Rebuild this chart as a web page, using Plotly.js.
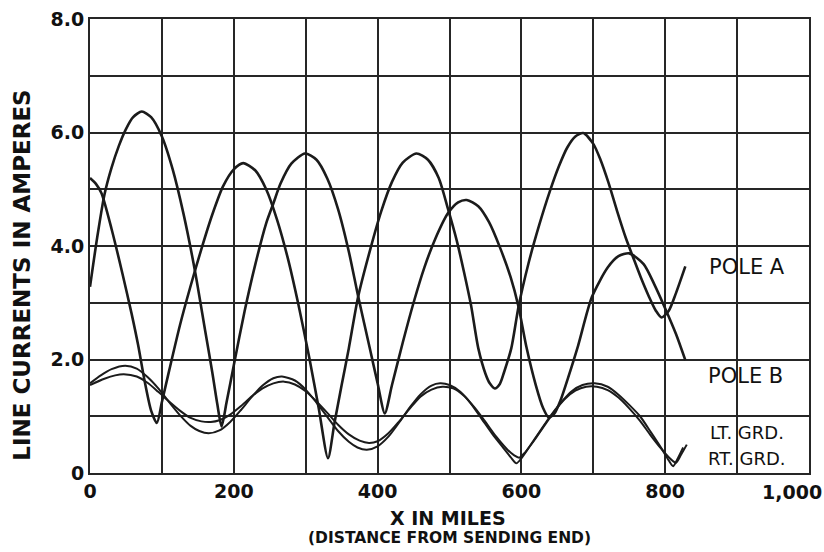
<!DOCTYPE html>
<html>
<head>
<meta charset="utf-8">
<script src="https://cdn.plot.ly/plotly-3.0.1.min.js"></script>
<style>
  html, body { margin: 0; padding: 0; background: #ffffff; }
  #chart { width: 824px; height: 552px; }
</style>
</head>
<body>
<div id="chart"></div>
<script>
// ---- Data (miles from sending end, amperes) ----
const poleAMiles = [0,8,16,30,45,58,67,76,85,93,100,110,125,140,155,170,185,200,213,230,245,260,275,290,305,318,331,340,350,360,373,390,405,420,435,454,470,485,498,510,520,530,540,550,556,563,570,576,586,596,610,625,640,652,664,675,686,700,710,721,733,745,756,766,777,787,795,805,815,828];
const poleAAmps  = [5.20,5.10,4.93,4.30,3.52,2.80,2.25,1.62,1.10,0.88,1.25,1.80,2.60,3.30,3.95,4.55,5.05,5.35,5.46,5.33,5.00,4.47,3.79,2.96,2.03,1.15,0.26,0.88,1.55,2.20,3.11,3.95,4.61,5.13,5.47,5.63,5.52,5.20,4.65,4.10,3.55,2.95,2.20,1.75,1.58,1.49,1.57,1.78,2.20,2.93,3.70,4.38,4.98,5.40,5.74,5.93,5.99,5.80,5.52,5.12,4.62,4.15,3.78,3.45,3.12,2.86,2.74,2.86,3.17,3.64];

const poleBMiles = [0,10,20,30,40,50,60,72,85,100,115,130,146,160,170,177,183,190,200,215,230,245,255,265,280,299,315,330,345,360,373,390,400,410,420,435,450,465,480,498,512,524,540,555,570,585,596,607,620,630,638,646,655,665,679,698,720,735,750,770,785,800,815,828];
const poleBAmps  = [3.28,4.15,4.90,5.38,5.76,6.06,6.27,6.37,6.27,5.93,5.35,4.57,3.56,2.52,1.78,1.22,0.82,1.25,1.90,2.85,3.68,4.40,4.75,5.10,5.45,5.63,5.52,5.19,4.65,3.90,3.11,2.15,1.58,1.05,1.55,2.30,3.00,3.62,4.12,4.58,4.77,4.81,4.70,4.42,3.98,3.45,2.93,2.22,1.55,1.15,0.98,1.05,1.30,1.68,2.25,3.10,3.62,3.82,3.87,3.68,3.32,2.90,2.45,1.99];

const ltGrdMiles = [0,15,30,49,65,80,95,110,125,140,152,165,180,195,210,225,240,255,267,285,300,315,330,345,360,372,385,400,415,430,445,460,475,487,500,515,530,545,560,575,585,593,600,612,625,640,655,670,685,702,720,735,750,765,780,795,805,811,818,825];
const ltGrdAmps  = [1.58,1.72,1.83,1.89,1.84,1.69,1.49,1.25,1.02,0.83,0.74,0.70,0.75,0.90,1.11,1.34,1.54,1.67,1.70,1.63,1.47,1.24,0.99,0.74,0.55,0.45,0.41,0.47,0.64,0.89,1.16,1.39,1.54,1.58,1.55,1.43,1.22,0.95,0.68,0.44,0.28,0.17,0.26,0.48,0.72,1.00,1.24,1.44,1.55,1.58,1.52,1.38,1.20,1.00,0.72,0.43,0.22,0.12,0.27,0.45];

const rtGrdMiles = [0,20,35,47,65,80,95,110,125,140,155,168,180,195,210,225,240,255,270,285,300,315,330,345,360,375,388,400,415,430,445,460,475,490,505,520,535,550,565,580,590,597,605,617,630,645,660,675,690,705,720,735,750,765,780,795,808,815,822,830];
const rtGrdAmps  = [1.55,1.66,1.72,1.74,1.70,1.59,1.43,1.26,1.10,0.97,0.91,0.90,0.93,1.03,1.18,1.35,1.49,1.58,1.61,1.56,1.44,1.26,1.06,0.85,0.68,0.57,0.53,0.56,0.70,0.91,1.14,1.35,1.47,1.52,1.49,1.36,1.15,0.90,0.64,0.42,0.31,0.27,0.36,0.56,0.80,1.07,1.30,1.45,1.52,1.52,1.46,1.33,1.14,0.92,0.66,0.42,0.24,0.18,0.32,0.50];

const xTickVals = [0,100,200,300,400,500,600,700,800,900,1000];
const xTickText = ['0','','200','','400','','600','','800','',''];
const yTickVals = [0,1,2,3,4,5,6,7,8];
const yTickText = ['0','','2.0','','4.0','','6.0','','8.0'];

const seriesLabels = ['POLE A','POLE B','LT. GRD.','RT. GRD.'];

// ---- Styling ----
const ink = '#1b1b1b';
const gridInk = '#262626';
const fontFam = 'DejaVu Sans, Liberation Sans, sans-serif';

function curve(x, y, w, name) {
  return {
    x: x, y: y, type: 'scatter', mode: 'lines', name: name,
    line: { color: ink, width: w, shape: 'spline', smoothing: 0.7 },
    hoverinfo: 'skip'
  };
}

const traces = [
  curve(poleAMiles, poleAAmps, 2.6, seriesLabels[0]),
  curve(poleBMiles, poleBAmps, 2.6, seriesLabels[1]),
  curve(ltGrdMiles, ltGrdAmps, 2.0, seriesLabels[2]),
  curve(rtGrdMiles, rtGrdAmps, 2.0, seriesLabels[3])
];

const axisCommon = {
  showgrid: true, gridcolor: gridInk, gridwidth: 2,
  showline: true, linecolor: gridInk, linewidth: 2, mirror: true,
  zeroline: false, ticks: '',
  tickfont: { family: fontFam, size: 19, color: '#111', weight: 'bold' },
  fixedrange: true
};

const layout = {
  width: 824, height: 552,
  margin: { l: 90, r: 15, t: 19, b: 79, pad: 0 },
  paper_bgcolor: '#ffffff', plot_bgcolor: '#ffffff',
  showlegend: false,
  xaxis: Object.assign({}, axisCommon, {
    range: [0, 1000], tickmode: 'array', tickvals: xTickVals, ticktext: xTickText
  }),
  yaxis: Object.assign({}, axisCommon, {
    range: [0, 8], tickmode: 'array', tickvals: yTickVals, ticktext: yTickText
  }),
  annotations: [
    { text: '1,000', xref: 'x', x: 1000, yref: 'paper', y: -0.042, xanchor: 'center', yanchor: 'middle',
      xshift: -17, showarrow: false, font: { family: fontFam, size: 19, color: '#111', weight: 'bold' } },
    { text: 'LINE CURRENTS IN AMPERES', xref: 'paper', x: -0.095, yref: 'paper', y: 0.436,
      textangle: -90, xanchor: 'center', yanchor: 'middle', showarrow: false,
      font: { family: fontFam, size: 23, color: '#111', weight: 'bold' } },
    { text: 'X IN MILES', xref: 'paper', x: 0.498, yref: 'paper', y: -0.099,
      xanchor: 'center', yanchor: 'middle', showarrow: false,
      font: { family: fontFam, size: 19, color: '#111', weight: 'bold' } },
    { text: '(DISTANCE FROM SENDING END)', xref: 'paper', x: 0.5, yref: 'paper', y: -0.143,
      xanchor: 'center', yanchor: 'middle', showarrow: false,
      font: { family: fontFam, size: 15.5, color: '#111', weight: 'bold' } },
    { text: seriesLabels[0], xref: 'x', x: 914, yref: 'y', y: 3.63, xanchor: 'center', yanchor: 'middle',
      showarrow: false, font: { family: fontFam, size: 21, color: '#111' } },
    { text: seriesLabels[1], xref: 'x', x: 912, yref: 'y', y: 1.71, xanchor: 'center', yanchor: 'middle',
      showarrow: false, font: { family: fontFam, size: 21, color: '#111' } },
    { text: seriesLabels[2], xref: 'x', x: 914, yref: 'y', y: 0.72, xanchor: 'center', yanchor: 'middle',
      showarrow: false, font: { family: fontFam, size: 18, color: '#111' } },
    { text: seriesLabels[3], xref: 'x', x: 914, yref: 'y', y: 0.26, xanchor: 'center', yanchor: 'middle',
      showarrow: false, font: { family: fontFam, size: 18, color: '#111' } }
  ]
};

Plotly.newPlot('chart', traces, layout, { displayModeBar: false, staticPlot: true });
</script>
</body>
</html>
